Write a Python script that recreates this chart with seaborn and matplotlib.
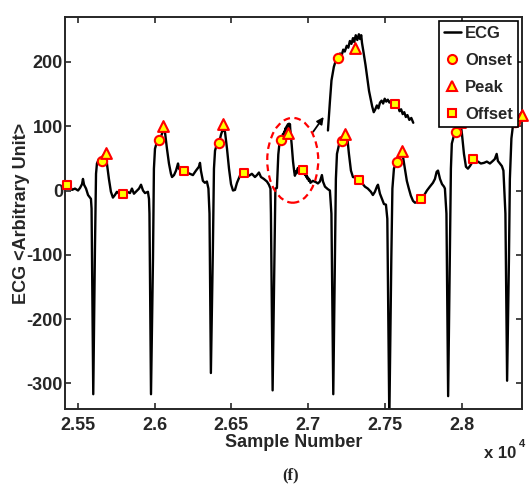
import matplotlib
matplotlib.use('Agg')
import matplotlib.pyplot as plt
import seaborn as sns
import pandas as pd
from matplotlib.lines import Line2D
from matplotlib.patches import Ellipse

# ---------------- data ----------------
ecg_x = [
    25417, 25430, 25450, 25463, 25482, 25502, 25515, 25528, 25534, 25541, 25554, 25567, 25580, 25586,
    25590, 25601, 25612, 25619, 25625, 25638, 25651, 25664, 25677, 25684, 25690, 25703, 25716, 25729,
    25742, 25755, 25769, 25782, 25801, 25821, 25840, 25853, 25866, 25886, 25899, 25912, 25925, 25938,
    25957, 25964,
    25967, 25977, 25990, 25996, 26003, 26016, 26033, 26048, 26061, 26068, 26081, 26094, 26107, 26114,
    26127, 26140, 26153, 26159, 26172, 26192, 26211, 26231, 26250, 26270, 26289, 26296, 26302, 26315,
    26328, 26341, 26351,
    26358, 26367, 26380, 26387, 26394, 26407, 26420, 26433, 26446, 26452, 26459, 26472, 26485, 26498,
    26511, 26524, 26537, 26556, 26576, 26595, 26615, 26634, 26654, 26667, 26680, 26693, 26712, 26732,
    26745, 26755,
    26758, 26769, 26781, 26787, 26797, 26802, 26806, 26812, 26818, 26823, 26828, 26832, 26836, 26840,
    26845, 26849, 26853, 26857, 26861, 26864, 26868, 26872, 26876, 26879, 26882, 26884, 26888, 26893,
    26898, 26902, 26906, 26910, 26914, 26918, 26922, 26926, 26930, 26934, 26938, 26942, 26946, 26950,
    26954, 26958, 26963, 26968, 26972, 26976, 26980, 26984, 26988, 26992, 26996, 27000, 27005, 27010,
    27015, 27031, 27051, 27064, 27077, 27090, 27097, 27110, 27129, 27142,
    27152, 27164, 27175, 27181, 27188, 27201, 27218, 27233, 27246, 27253, 27266, 27279, 27292, 27311,
    27331, 27350, 27370, 27389, 27409, 27422, 27435, 27448, 27455, 27468, 27481, 27494, 27507,
    27516, 27529, 27542, 27549, 27559, 27572, 27581, 27592, 27605, 27611, 27617, 27630, 27643, 27656,
    27669, 27683, 27696, 27709, 27722, 27735, 27754, 27774, 27793, 27813, 27826, 27837, 27846, 27859,
    27872, 27885, 27891,
    27901, 27912, 27923, 27930, 27936, 27949, 27962, 27975, 27985, 27995, 28002, 28015, 28028, 28041,
    28054, 28072, 28086, 28106, 28125, 28145, 28164, 28184, 28203, 28216, 28228, 28236, 28249, 28262,
    28272,
    28285, 28296, 28308, 28314, 28324, 28333, 28347, 28360, 28379, 28399,
]
ecg_y = [
    7, 4, 6, 1, 3, 0, 4, 10, 18, 9, 3, -7, -11, -13,
    -28, -317, -91, 26, 42, 49, 46, 54, 57, 56, 42, 18, -2, -11,
    -7, -2, -5, 0, -5, -2, -4, 3, -5, 0, 3, 9, 0, -4,
    -2, -13,
    -36, -317, -106, 34, 65, 76, 77, 88, 95, 91, 65, 42, 26, 21,
    24, 31, 42, 34, 31, 31, 28, 26, 24, 31, 37, 43, 31, 15,
    12, 14, 3,
    -36, -284, -91, 34, 62, 73, 74, 87, 96, 94, 91, 65, 34, 10,
    0, 1, 12, 23, 26, 24, 23, 26, 21, 24, 28, 21, 18, 14,
    9, 3,
    -36, -311, -106, 3, 4, 34, 56, 70, 78, 80, 84, 82, 88, 86,
    92, 90, 97, 94, 100, 96, 103, 98, 104, 99, 103, 95, 85, 72,
    57, 45, 37, 29, 23, 26, 30, 27, 33, 35, 32, 37, 34, 36,
    33, 35, 31, 33, 28, 30, 24, 26, 21, 23, 18, 20, 15, 17,
    12, 15, 13, 11, 14, 24, 14, 6, 2, 0,
    -36, -317, -106, 18, 57, 71, 77, 85, 90, 87, 57, 31, 21, 20,
    17, 12, 6, 3, -2, -7, -2, 6, 9, -5, -13, -21, -22,
    -44, -356, -106, 3, 34, 42, 45, 52, 57, 59, 54, 34, 15, 3,
    -8, -16, -19, -18, -14, -13, -8, 0, 6, 12, 18, 29, 31, 18,
    10, 6, 3,
    -36, -320, -106, 34, 73, 85, 91, 99, 104, 101, 88, 57, 37, 34,
    38, 45, 43, 45, 42, 43, 45, 42, 46, 49, 57, 46, 42, 38,
    31,
    -36, -296, -106, 18, 81, 99, 107, 112, 118, 124,
]

onset_x = [25656, 26031, 26418, 26823, 27218, 27580, 27962, 28347]
onset_y = [46, 78, 74, 79, 77, 45, 91, 107]
peak_x = [25682, 26057, 26448, 26867, 27242, 27609, 27989, 28390]
peak_y = [59, 100, 104, 90, 88, 62, 107, 117]
offset_x = [25430, 25797, 26190, 26584, 26968, 27331, 27735, 28071]
offset_y = [9, -6, 31, 27, 32, 17, -13, 49]

x_ticks = [25500, 26000, 26500, 27000, 27500, 28000]
x_tick_labels = ['2.55', '2.6', '2.65', '2.7', '2.75', '2.8']
y_ticks = [-300, -200, -100, 0, 100, 200]
zoom_x_range = (26797, 27015)   # beat shown magnified
zoom_onset_idx, zoom_peak_idx, zoom_offset_idx = 3, 3, 4

# ---------------- style ----------------
sns.set_style('ticks')
plt.rcParams['font.family'] = ['Liberation Sans', 'DejaVu Sans']
plt.rcParams['font.weight'] = 'bold'
plt.rcParams['axes.labelweight'] = 'bold'
plt.rcParams['axes.unicode_minus'] = False

fig = plt.figure(figsize=(5.31, 4.86), dpi=100)
ax = fig.add_axes([65 / 531, 1 - 409 / 486, (522 - 65) / 531, (409 - 17) / 486])

df = pd.DataFrame({'x': ecg_x, 'y': ecg_y})
sns.lineplot(data=df, x='x', y='y', sort=False, estimator=None, color='black', lw=1.7, ax=ax)

mk = dict(color='yellow', edgecolor='red', linewidth=1.5, zorder=5, clip_on=False, legend=False)
sns.scatterplot(x=onset_x, y=onset_y, marker='o', s=45, ax=ax, **mk)
sns.scatterplot(x=peak_x, y=peak_y, marker='^', s=60, ax=ax, **mk)
sns.scatterplot(x=offset_x, y=offset_y, marker='s', s=40, ax=ax, **mk)

ax.set_xlim(25417, 28393)
ax.set_ylim(-340, 270)
ax.set_xticks(x_ticks)
ax.set_xticklabels(x_tick_labels)
ax.set_yticks(y_ticks)
ax.tick_params(direction='in', length=4, width=1.2, top=True, right=True, labelsize=13)
ax.tick_params(axis='x', pad=6)
ax.tick_params(axis='y', pad=1.5)
for lab in ax.get_xticklabels() + ax.get_yticklabels():
    lab.set_fontweight('bold')
for sp in ax.spines.values():
    sp.set_linewidth(1.4)
    sp.set_visible(True)

ax.set_xlabel('Sample Number', fontsize=13, fontweight='bold', labelpad=0)
ax.set_ylabel('ECG <Arbitrary Unit>', fontsize=13, fontweight='bold')
ax.yaxis.set_label_coords(-0.077, 0.5)

# dashed ellipse around the magnified beat
ell = Ellipse((26900, 47), 332, 132, fill=False, edgecolor='red', lw=1.6,
              linestyle=(0, (3, 2)), zorder=6)
ax.add_patch(ell)
ax.annotate('', xy=(27112, 118), xytext=(27023, 88),
            arrowprops=dict(arrowstyle='-|>', color='black', lw=1.3, mutation_scale=10))

# legend
handles = [
    Line2D([], [], color='black', lw=1.8, label='ECG'),
    Line2D([], [], ls='none', marker='o', ms=6.5, mfc='yellow', mec='red', mew=1.5, label='Onset'),
    Line2D([], [], ls='none', marker='^', ms=7.5, mfc='yellow', mec='red', mew=1.5, label='Peak'),
    Line2D([], [], ls='none', marker='s', ms=6, mfc='yellow', mec='red', mew=1.5, label='Offset'),
]
leg = ax.legend(handles=handles, loc='upper right', fontsize=12, frameon=True, fancybox=False,
                edgecolor='black', framealpha=1, borderpad=0.3, labelspacing=0.72,
                handlelength=1.0, handletextpad=0.25, borderaxespad=0.25)
leg.get_frame().set_linewidth(1.2)
for t in leg.get_texts():
    t.set_fontweight('bold')

# magnified copy of one beat
ax_in = fig.add_axes([326 / 531, 1 - 135 / 486, 90 / 531, 105 / 486])
ax_in.patch.set_alpha(0)
sel = df[(df.x >= zoom_x_range[0]) & (df.x <= zoom_x_range[1])]
sns.lineplot(data=sel, x='x', y='y', sort=False, estimator=None, color='black', lw=1.7, ax=ax_in)
sns.scatterplot(x=[onset_x[zoom_onset_idx]], y=[onset_y[zoom_onset_idx]], marker='o', s=45, ax=ax_in, **mk)
sns.scatterplot(x=[peak_x[zoom_peak_idx]], y=[peak_y[zoom_peak_idx]], marker='^', s=60, ax=ax_in, **mk)
sns.scatterplot(x=[offset_x[zoom_offset_idx]], y=[offset_y[zoom_offset_idx]], marker='s', s=40, ax=ax_in, **mk)
ax_in.set_xlim(26792, 27022)
ax_in.set_ylim(-0.7, 108.4)
ax_in.axis('off')

# exponent and caption
fig.text(484 / 531, 1 - 453 / 486, 'x 10', fontsize=12, fontweight='bold', ha='left', va='center')
fig.text(519 / 531, 1 - 444 / 486, '4', fontsize=8, fontweight='bold', ha='left', va='center')
fig.text(291 / 531, 1 - 475 / 486, '(f)', fontsize=12, fontweight='bold', ha='center', va='center',
         family=['Liberation Serif', 'DejaVu Serif'])

fig.savefig('out.png', dpi=100)
